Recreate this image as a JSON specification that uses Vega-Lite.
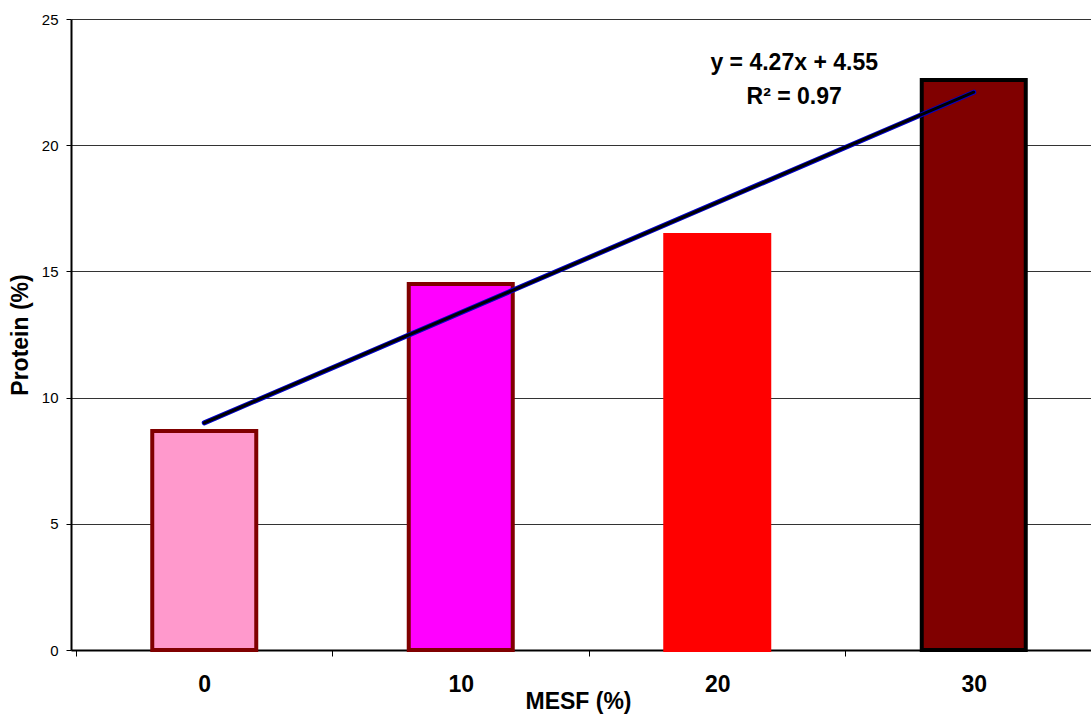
{
  "$schema": "https://vega.github.io/schema/vega-lite/v6.json",
  "autosize": "none",
  "padding": {"left": 71, "top": 19, "right": 0, "bottom": 67},
  "width": 1036,
  "height": 631,
  "background": "white",
  "config": {
    "view": {"stroke": null},
    "font": "Liberation Sans"
  },
  "datasets": {
    "bars": [
      {"MESF": 0, "Protein": 8.68},
      {"MESF": 10, "Protein": 14.5},
      {"MESF": 20, "Protein": 16.44},
      {"MESF": 30, "Protein": 22.58}
    ],
    "trend": [
      {"MESF": 0, "Protein": 9.0},
      {"MESF": 30, "Protein": 22.1}
    ],
    "labels": [
      {"MESF": 23.0, "Protein": 23.24, "text": "y = 4.27x + 4.55"},
      {"MESF": 23.0, "Protein": 21.9, "text": "R² = 0.97"}
    ]
  },
  "layer": [
    {
      "data": {"name": "bars"},
      "mark": {"type": "bar", "size": 104, "strokeWidth": 4, "strokeJoin": "miter"},
      "encoding": {
        "x": {
          "field": "MESF", "type": "quantitative",
          "scale": {"domain": [-5, 35], "nice": false, "zero": false},
          "axis": {
            "title": "MESF (%)",
            "titleFont": "Liberation Sans", "titleFontSize": 23, "titleFontWeight": "bold", "titleColor": "black",
            "titlePadding": -6, "titleX": 507,
            "values": [-5, 0, 5, 10, 15, 20, 25, 30, 35],
            "labelExpr": "datum.value % 10 === 0 ? datum.label : ''",
            "labelFont": "Liberation Sans", "labelFontSize": 23, "labelFontWeight": "bold", "labelColor": "black",
            "labelPadding": 17, "labelFlush": false, "labelOverlap": false,
            "tickOpacity": {"condition": {"test": "datum.value % 10 === 0", "value": 0}, "value": 1},
            "tickSize": 6, "tickColor": "black", "tickWidth": 1,
            "domainColor": "black", "domainWidth": 2,
            "grid": false
          }
        },
        "y": {
          "field": "Protein", "type": "quantitative",
          "scale": {"domain": [0, 25], "nice": false},
          "axis": {
            "title": "Protein (%)",
            "titleFont": "Liberation Sans", "titleFontSize": 23, "titleFontWeight": "bold", "titleColor": "black",
            "titlePadding": 9,
            "values": [0, 5, 10, 15, 20, 25],
            "labelFont": "Liberation Sans", "labelFontSize": 15, "labelColor": "black", "labelPadding": 8,
            "tickSize": 5, "tickColor": "black",
            "domainColor": "black", "domainWidth": 2,
            "grid": true, "gridColor": "#333333", "gridWidth": 1
          }
        },
        "fill": {
          "field": "MESF", "type": "nominal", "legend": null,
          "scale": {"domain": [0, 10, 20, 30], "range": ["#FF99CC", "#FF00FF", "#FF0000", "#800000"]}
        },
        "stroke": {
          "field": "MESF", "type": "nominal", "legend": null,
          "scale": {"domain": [0, 10, 20, 30], "range": ["#800000", "#800000", "#FF0000", "#000000"]}
        }
      }
    },
    {
      "data": {"name": "trend"},
      "mark": {"type": "line", "color": "#0000CC", "strokeWidth": 5, "strokeCap": "round"},
      "encoding": {
        "x": {"field": "MESF", "type": "quantitative"},
        "y": {"field": "Protein", "type": "quantitative"}
      }
    },
    {
      "data": {"name": "trend"},
      "mark": {"type": "line", "color": "#000000", "strokeWidth": 3, "strokeCap": "round"},
      "encoding": {
        "x": {"field": "MESF", "type": "quantitative"},
        "y": {"field": "Protein", "type": "quantitative"}
      }
    },
    {
      "data": {"name": "labels"},
      "mark": {"type": "text", "font": "Liberation Sans", "fontSize": 23, "fontWeight": "bold", "color": "black", "align": "center", "baseline": "middle"},
      "encoding": {
        "x": {"field": "MESF", "type": "quantitative"},
        "y": {"field": "Protein", "type": "quantitative"},
        "text": {"field": "text"}
      }
    }
  ]
}
